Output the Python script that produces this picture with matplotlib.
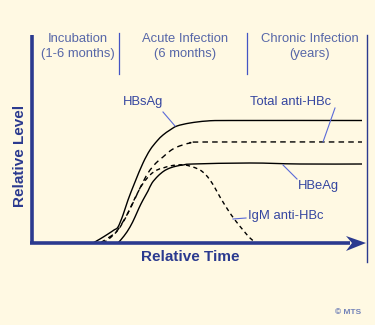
import matplotlib.pyplot as plt
from matplotlib.patches import Polygon, PathPatch
from matplotlib.path import Path

plt.rcParams['font.family'] = ['Liberation Sans', 'DejaVu Sans']

# curve coordinates (x = time, y = level, drawn on a pixel-sized canvas, y down)
hbsag_x = [93, 100, 108, 114, 118, 123, 128, 135, 143, 150, 157, 163, 170, 177, 190, 207, 230, 362]
hbsag_y = [243, 239, 234, 230, 227, 215, 200, 182, 163, 150, 141, 135, 130, 126, 123, 121, 120.5, 120.5]

total_x = [100, 108, 116, 124, 132, 140, 148, 156, 163, 170, 177, 190, 205, 362]
total_y = [243, 238, 232, 220, 205, 188, 173, 163, 157, 151, 147, 143, 142, 142]

igm_x = [103, 110, 118, 126, 134, 142, 150, 157, 163, 170, 177, 185, 193, 200, 205, 210,
         215, 220, 228, 235, 243, 250, 256]
igm_y = [243, 238, 230, 217, 200, 185, 175, 170, 168, 166, 165, 165, 167, 170, 174, 180,
         188, 197, 210, 220, 230, 238, 243]

hbeag_x = [118, 124, 130, 135, 139, 143, 148, 152, 158, 164, 170, 177, 183, 193, 250, 300, 362]
hbeag_y = [243, 236, 227, 217, 208, 200, 191, 183, 176, 171, 168, 166, 165, 164, 163, 164, 164]

phases = [('Incubation', '(1-6 months)', 78),
          ('Acute Infection', '(6 months)', 185),
          ('Chronic Infection', '(years)', 310)]
dividers = [119, 247]

bg = '#fff9e3'
axis_col = '#2b3a8f'
text_col = '#3546a0'
phase_col = '#5767a8'
lead_col = '#5a6ad8'


def smooth_path(xs, ys):
    # bezier path through the points (catmull-rom style handles)
    pts = list(zip(xs, ys))
    verts = [pts[0]]
    codes = [Path.MOVETO]
    n = len(pts)
    for i in range(n - 1):
        p0 = pts[max(i - 1, 0)]
        p1 = pts[i]
        p2 = pts[i + 1]
        p3 = pts[min(i + 2, n - 1)]
        c1 = (p1[0] + (p2[0] - p0[0]) / 6, p1[1] + (p2[1] - p0[1]) / 6)
        c2 = (p2[0] - (p3[0] - p1[0]) / 6, p2[1] - (p3[1] - p1[1]) / 6)
        verts += [c1, c2, p2]
        codes += [Path.CURVE4] * 3
    return Path(verts, codes)


fig = plt.figure(figsize=(3.75, 3.25), dpi=100, facecolor=bg)
ax = fig.add_axes([0, 0, 1, 1])
ax.set_facecolor(bg)
ax.set_xlim(0, 375)
ax.set_ylim(325, 0)
ax.axis('off')

# curves
ax.add_patch(PathPatch(smooth_path(hbsag_x, hbsag_y), fill=False, ec='black', lw=1.0))
ax.add_patch(PathPatch(smooth_path(total_x, total_y), fill=False, ec='black', lw=1.0,
                       linestyle=(0, (4, 3))))
ax.add_patch(PathPatch(smooth_path(igm_x, igm_y), fill=False, ec='black', lw=1.0,
                       linestyle=(0, (3, 2.5))))
ax.add_patch(PathPatch(smooth_path(hbeag_x, hbeag_y), fill=False, ec='black', lw=1.0))

# frame: y axis, x axis with arrow, right edge
ax.plot([31.5, 31.5], [35, 244], color=axis_col, lw=2.6, solid_capstyle='butt')
ax.plot([30, 350], [242.5, 242.5], color=axis_col, lw=2.6, solid_capstyle='butt')
ax.add_patch(Polygon([(346, 236), (366, 243), (346, 251), (352, 243)],
                     closed=True, color=axis_col, lw=0))
ax.plot([366.5, 366.5], [35, 262], color=axis_col, lw=1.0)

# phase dividers and labels
for x in dividers:
    ax.plot([x, x], [33, 74], color='#4455c4', lw=0.9)
for top, bottom, x in phases:
    ax.text(x, 39, top, ha='center', va='center', fontsize=9.4, color=phase_col)
    ax.text(x, 53.5, bottom, ha='center', va='center', fontsize=9.4, color=phase_col)

# curve labels with leader lines
ax.text(143, 102, 'HBsAg', ha='center', va='center', fontsize=9.4, color=text_col)
ax.plot([163, 175], [112, 126], color=lead_col, lw=0.8)
ax.text(291, 102, 'Total anti-HBc', ha='center', va='center', fontsize=9.4, color=text_col)
ax.plot([335, 323], [108, 142], color=lead_col, lw=0.8)
ax.text(318, 186, 'HBeAg', ha='center', va='center', fontsize=9.4, color=text_col)
ax.plot([283, 297], [165, 179], color=lead_col, lw=0.8)
ax.text(248, 216.5, 'IgM anti-HBc', ha='left', va='center', fontsize=9.4, color=text_col)
ax.plot([233, 246], [219, 218], color=lead_col, lw=0.8)

# axis titles
ax.text(20.5, 156, 'Relative Level', rotation=90, ha='center', va='center',
        fontsize=11, fontweight='bold', color=axis_col)
ax.text(190, 257, 'Relative Time', ha='center', va='center',
        fontsize=11, fontweight='bold', color=axis_col)
ax.text(348, 313, '© MTS', ha='center', va='center', fontsize=6,
        fontweight='bold', color='#7282b8')

fig.savefig('out.png', dpi=100, facecolor=bg)
